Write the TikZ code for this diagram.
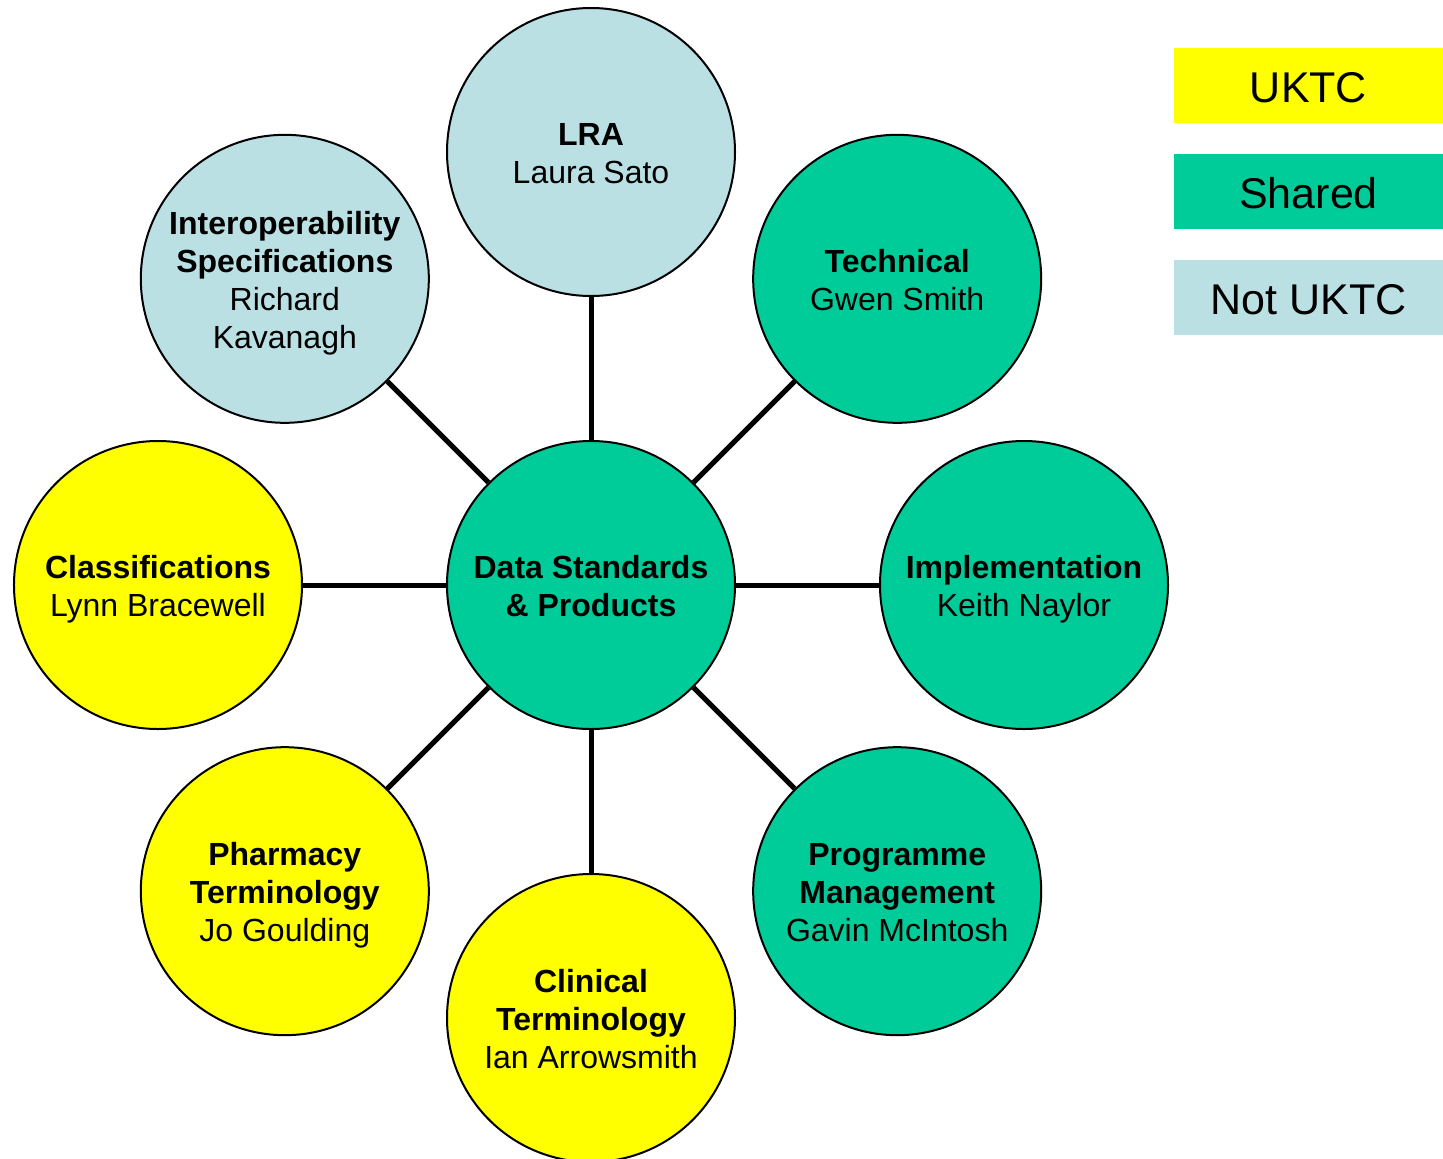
\documentclass[tikz,border=0pt]{standalone}
\usepackage{fontspec}
\setmainfont{Liberation Sans}
\usetikzlibrary{positioning}

\definecolor{uktcyellow}{HTML}{FFFF00}
\definecolor{sharedgreen}{HTML}{00CC99}
\definecolor{notuktcblue}{HTML}{BBE0E3}

\begin{document}
\begin{tikzpicture}[node distance = 216.5pt,on grid,align=center,
    team/.style={circle, draw, line width=1pt, minimum size=144pt, inner sep=0pt,
      font=\fontsize{16}{19}\selectfont,
      % same line box for every text, whatever its letters
      execute at begin node={\setbox0=\hbox\bgroup},
      execute at end node={\egroup
        \ht0=\dimexpr19pt*\numexpr(\ht0-622592)/1245184\relax+16pt\relax
        \dp0=3.5pt\box0}},
    uktc/.style={team, fill=uktcyellow},
    shared/.style={team, fill=sharedgreen},
    notuktc/.style={team, fill=notuktcblue},
    key/.style={minimum width=134.5pt, minimum height=37.5pt, inner sep=0pt,
      text height=17.4pt, text depth=0pt, font=\fontsize{21.5}{25}\selectfont}]
    \useasboundingbox (-295.5pt,-286.5pt) rectangle (426pt,292.5pt);
    \node[shared] (dsp) {\textbf{Data Standards}\\\textbf{\& Products}};
    \node[notuktc] (lra) [above = of dsp] {\textbf{LRA}\\Laura Sato};
    \node[shared] (tech) [above right = of dsp] {\textbf{Technical}\\Gwen Smith};
    \node[shared] (impl) [right = of dsp] {\textbf{Implementation}\\Keith Naylor};
    \node[shared] (prog) [below right = of dsp] {\textbf{Programme}\\\textbf{Management}\\Gavin McIntosh};
    \node[uktc] (clin) [below = of dsp] {\textbf{Clinical}\\\textbf{Terminology}\\Ian Arrowsmith};
    \node[uktc] (pharm) [below left = of dsp] {\textbf{Pharmacy}\\\textbf{Terminology}\\Jo Goulding};
    \node[uktc] (class) [left = of dsp] {\textbf{Classifications}\\Lynn Bracewell};
    \node[notuktc] (interop) [above left = of dsp] {\textbf{Interoperability}\\\textbf{Specifications}\\Richard\\Kavanagh};
    \path[line width=2.5pt]
    (dsp) edge (lra)
    (dsp) edge (tech)
    (dsp) edge (impl)
    (dsp) edge (prog)
    (dsp) edge (clin)
    (dsp) edge (pharm)
    (dsp) edge (class)
    (dsp) edge (interop)
    ;
    % legend
    \node[key, fill=uktcyellow] (kuktc) at (358.75pt,249.75pt) {UKTC};
    \node[key, fill=sharedgreen] (kshared) [below = 53pt of kuktc] {Shared};
    \node[key, fill=notuktcblue] (knot) [below = 53pt of kshared] {Not UKTC};
  \end{tikzpicture}
\end{document}
